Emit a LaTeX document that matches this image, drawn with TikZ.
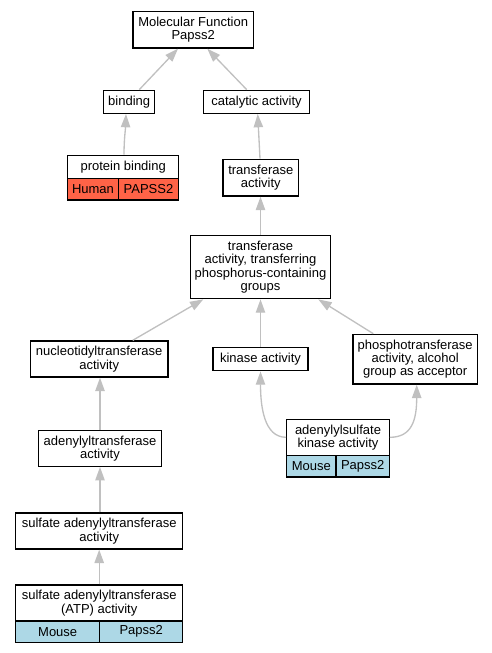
\documentclass[tikz,border=0pt]{standalone}
\usepackage{fontspec}
\setmainfont{Liberation Sans}
\usetikzlibrary{calc,arrows.meta}
\definecolor{edgegray}{RGB}{192,192,192}
\definecolor{humanred}{RGB}{255,99,71}
\definecolor{mouseblue}{RGB}{173,216,230}
\tikzset{
  box/.style={draw=black, line width=1pt, fill=white, inner sep=0pt, align=center,
    font=\fontsize{9.75pt}{10pt}\selectfont},
  cellred/.style={box, fill=humanred},
  cellblue/.style={box, fill=mouseblue},
  edge/.style={draw=edgegray, line width=1pt,
    -{Triangle[length=10pt,width=7pt,fill=edgegray]}},
}
\begin{document}
\begin{tikzpicture}[x=0.75pt,y=-0.75pt]
\useasboundingbox (0,0) rectangle (492,653);
% nodes
\node[box, minimum width=120.3*0.75pt, minimum height=36.3*0.75pt] (mf) at (193.2,29.9) {Molecular Function\\Papss2};
\node[box, minimum width=51*0.75pt, minimum height=23*0.75pt] (binding) at (129.2,101.8) {binding};
\node[box, minimum width=105.7*0.75pt, minimum height=23*0.75pt] (catalytic) at (256.5,101.8) {catalytic activity};
\node[box, minimum width=111*0.75pt, minimum height=23*0.75pt] (pbt) at (123.2,166.8) {protein binding};
\node[cellred, minimum width=50.6*0.75pt, minimum height=21.7*0.75pt] (pbh) at (93,189.2) {Human};
\node[cellred, minimum width=60.4*0.75pt, minimum height=21.7*0.75pt] (pbg) at (148.5,189.2) {PAPSS2};
\node[box, minimum width=75.7*0.75pt, minimum height=36.7*0.75pt] (tr) at (260.8,177.7) {transferase\\activity};
\node[box, minimum width=140.4*0.75pt, minimum height=63.4*0.75pt] (tp) at (260.5,267) {transferase\\activity, transferring\\phosphorus-containing\\groups};
\node[box, minimum width=137.7*0.75pt, minimum height=36*0.75pt] (nucl) at (99.2,359) {nucleotidyltransferase\\activity};
\node[box, minimum width=95*0.75pt, minimum height=23.4*0.75pt] (kinase) at (260.5,359) {kinase activity};
\node[box, minimum width=124.3*0.75pt, minimum height=49.7*0.75pt] (phospho) at (415.2,359.2) {phosphotransferase\\activity, alcohol\\group as acceptor};
\node[box, minimum width=102.6*0.75pt, minimum height=36*0.75pt] (adskt) at (338,437.3) {adenylylsulfate\\kinase activity};
\node[cellblue, minimum width=49.3*0.75pt, minimum height=21.7*0.75pt] (adskm) at (311.3,466.2) {Mouse};
\node[cellblue, minimum width=53.3*0.75pt, minimum height=21.7*0.75pt] (adskg) at (362.7,466.2) {Papss2};
\node[box, minimum width=122.6*0.75pt, minimum height=35.6*0.75pt] (adt) at (100,448.5) {adenylyltransferase\\activity};
\node[box, minimum width=167*0.75pt, minimum height=36*0.75pt] (sat) at (99.2,531) {sulfate adenylyltransferase\\activity};
\node[box, minimum width=167*0.75pt, minimum height=36*0.75pt] (atpt) at (99.2,603) {sulfate adenylyltransferase\\(ATP) activity};
\node[cellblue, minimum width=84*0.75pt, minimum height=21.3*0.75pt] (atpm) at (57.7,631.7) {Mouse};
\node[cellblue, minimum width=83*0.75pt, minimum height=21.3*0.75pt] (atpg) at (141.2,631.7) {Papss2};
% edges
\draw[edge] ($(binding.north)+(10.1,0)$) -- ($(mf.south)+(-15.2,0)$);
\draw[edge] ($(catalytic.north)+(-9.8,0)$) -- ($(mf.south)+(14.1,0)$);
\draw[edge] ($(pbt.north)+(0.8,0)$) .. controls +(0,-15) and +(-0.5,15) .. ($(binding.south)+(-3.2,0)$);
\draw[edge] ($(tr.north)+(-0.8,0)$) -- ($(catalytic.south)+(1.2,0)$);
\draw[edge] (tp.north) -- (tr.south -| tp.north);
\draw[edge] ($(nucl.north)+(33.5,0)$) -- ($(tp.south)+(-57.2,0)$);
\draw[edge] (kinase.north) -- (tp.south);
\draw[edge] ($(phospho.north)+(-41.9,0)$) -- ($(tp.south)+(57.8,0)$);
\draw[edge] (adt.north) -- (nucl.south -| adt.north);
\draw[edge] (sat.north -| adt.south) -- (adt.south);
\draw[edge] (atpt.north) -- (sat.south);
\draw[edge] (adskt.west) .. controls +(-22,0) and +(0,35) .. (kinase.south);
\draw[edge] (adskt.east) .. controls +(22,0) and +(0,35) .. ($(phospho.south)+(1.5,0)$);
\end{tikzpicture}
\end{document}
